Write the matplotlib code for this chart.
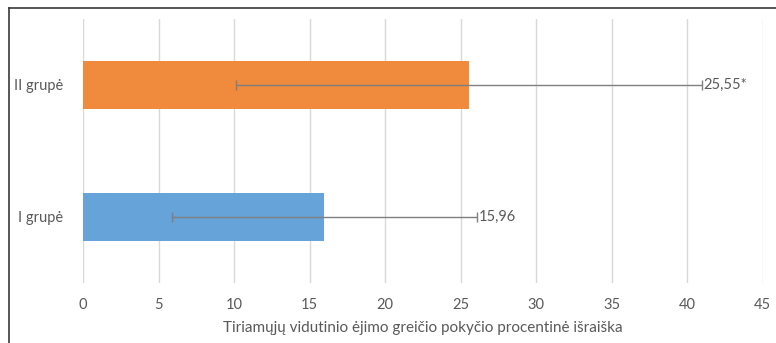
import matplotlib.pyplot as plt
from matplotlib.lines import Line2D

plt.rcParams['font.family'] = ['Lato', 'DejaVu Sans']

# Data
groups = ['I grupė', 'II grupė']
means = [15.96, 25.55]
errors = [10.1, 15.4]
labels = ['15,96', '25,55*']
colors = ['#65A3D9', '#F08A3C']
xticks = [0, 5, 10, 15, 20, 25, 30, 35, 40, 45]

text_color = '#595959'
grid_color = '#D9D9D9'

fig = plt.figure(figsize=(7.76, 3.43), dpi=100)
ax = fig.add_axes([0.107, 0.175, 0.876, 0.77])

y = range(len(groups))
ax.barh(y, means, height=0.36, color=colors, zorder=2)
ax.errorbar(means, y, xerr=errors, fmt='none', ecolor='#7F7F7F',
            elinewidth=1.0, capsize=3.5, capthick=1.0, zorder=3)

for yi, m, e, lab in zip(y, means, errors, labels):
    ax.annotate(lab, (m + e, yi), xytext=(1.5, 0), textcoords='offset points',
                ha='left', va='center', fontsize=10.5, color=text_color, zorder=4)

ax.set_xlim(0, 45)
ax.set_ylim(-0.5, 1.5)
ax.set_xticks(xticks)
ax.set_yticks(list(y))
ax.set_yticklabels(groups)
ax.xaxis.grid(True, color=grid_color, linewidth=1.0, zorder=0)
ax.set_axisbelow(True)
for s in ax.spines.values():
    s.set_visible(False)
ax.tick_params(axis='both', length=0, labelsize=10.5, colors=text_color)
ax.tick_params(axis='x', pad=11)
ax.tick_params(axis='y', pad=14)
ax.set_xlabel('Tiriamųjų vidutinio ėjimo greičio pokyčio procentinė išraiška',
              fontsize=11, color=text_color, labelpad=6)

# outer frame lines (top and left)
fig.add_artist(Line2D([9 / 776, 1], [1 - 8 / 343, 1 - 8 / 343],
                      transform=fig.transFigure, color='#3A3A3A', linewidth=1.2))
fig.add_artist(Line2D([9 / 776, 9 / 776], [0, 1 - 8 / 343],
                      transform=fig.transFigure, color='#3A3A3A', linewidth=1.2))

fig.savefig('out.png', dpi=100, facecolor='white')
